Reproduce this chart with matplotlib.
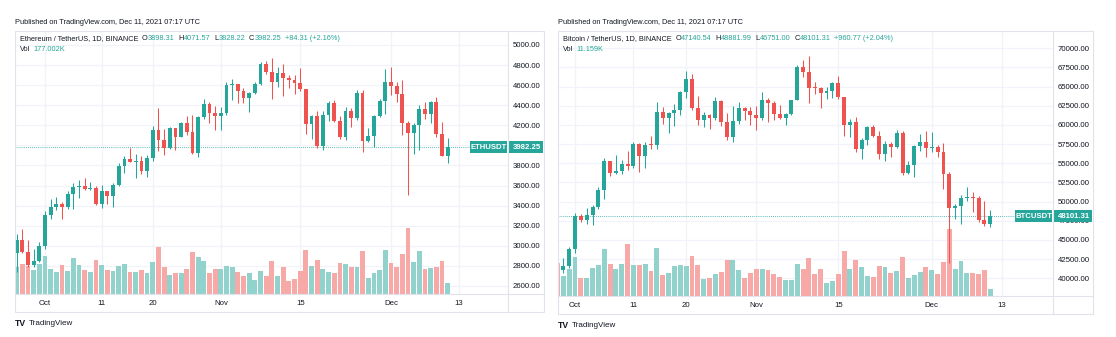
import datetime as dt
import numpy as np
import matplotlib
matplotlib.use("Agg")
import matplotlib.pyplot as plt
from matplotlib.patches import Rectangle
from matplotlib.transforms import blended_transform_factory

plt.rcParams['font.family'] = ['Liberation Sans', 'DejaVu Sans']

W, H = 1116, 337
GREEN, RED = '#26a69a', '#ef5350'
VGREEN, VRED = '#92d2cc', '#f7a9a7'
TXT, GRID, BORDER = '#131722', '#f0f3fa', '#e0e3eb'

# ---------------- ETH / USDT daily (from 2021-09-26) ----------------
eth_start = dt.date(2021, 9, 26)
eth_open = [2926, 3062, 2934, 2807, 2850, 3001, 3307, 3391, 3418, 3382, 3516, 3586, 3592, 3562,
            3575, 3416, 3545, 3493, 3605, 3790, 3868, 3830, 3849, 3746, 3878, 4156, 4058, 3972,
            4170, 4085, 4220, 4131, 3922, 4287, 4415, 4323, 4288, 4325, 4602, 4609, 4537, 4477,
            4519, 4615, 4808, 4733, 4630, 4722, 4667, 4648, 4624, 4560, 4215, 4292, 3997, 4298,
            4421, 4248, 4087, 4340, 4270, 4523, 4042, 4098, 4294, 4446, 4632, 4587, 4512, 4221,
            4119, 4199, 4359, 4308, 4433, 4110, 3898.31]
eth_high = [3118, 3172, 3059, 2970, 3035, 3349, 3470, 3490, 3439, 3545, 3622, 3652, 3676, 3637,
            3598, 3606, 3550, 3623, 3827, 3898, 3970, 3910, 3897, 3906, 4196, 4376, 4168, 4188,
            4176, 4232, 4295, 4300, 4296, 4460, 4435, 4392, 4378, 4630, 4665, 4610, 4568, 4532,
            4630, 4830, 4837, 4868, 4778, 4810, 4705, 4700, 4772, 4564, 4300, 4340, 4345, 4440,
            4448, 4295, 4385, 4370, 4550, 4550, 4175, 4300, 4460, 4765, 4778, 4630, 4650, 4243,
            4227, 4398, 4429, 4445, 4487, 4234, 4071.57]
eth_low = [2741, 2929, 2793, 2787, 2838, 2968, 3265, 3358, 3271, 3364, 3366, 3479, 3558, 3552,
           3410, 3374, 3412, 3383, 3600, 3722, 3836, 3677, 3720, 3684, 3842, 3949, 3904, 3968,
           3951, 4080, 4103, 3913, 3888, 4266, 4228, 4150, 4150, 4304, 4450, 4426, 4420, 4332,
           4507, 4603, 4709, 4462, 4577, 4489, 4575, 4515, 4540, 4112, 4060, 3975, 3955, 4244,
           4236, 4062, 4055, 4180, 4255, 3935, 4036, 3980, 4278, 4317, 4500, 4433, 4105, 3503,
           3910, 3958, 4266, 4222, 4088, 3890, 3828.22]
eth_close = [3062, 2934, 2807, 2850, 3001, 3307, 3391, 3418, 3382, 3516, 3586, 3592, 3562, 3575,
             3416, 3545, 3493, 3605, 3790, 3868, 3830, 3849, 3746, 3878, 4156, 4058, 3972, 4170,
             4085, 4220, 4131, 3922, 4287, 4415, 4323, 4288, 4325, 4602, 4609, 4537, 4477, 4519,
             4615, 4808, 4733, 4630, 4722, 4667, 4648, 4624, 4560, 4215, 4292, 3997, 4298, 4421,
             4248, 4087, 4340, 4270, 4523, 4042, 4098, 4294, 4446, 4632, 4587, 4512, 4221, 4119,
             4199, 4359, 4308, 4433, 4110, 3898, 3982.25]
eth_vol_k = [430, 483, 456, 391, 483, 617, 403, 349, 467, 375, 580, 467, 386, 349, 552, 467, 386,
             375, 456, 483, 359, 349, 386, 333, 520, 762, 440, 311, 343, 333, 398, 676, 596, 536,
             333, 403, 403, 446, 430, 354, 295, 343, 230, 375, 295, 526, 290, 440, 214, 242, 365,
             708, 456, 547, 403, 359, 333, 504, 483, 430, 430, 687, 262, 333, 391, 708, 494, 430,
             649, 1058, 510, 697, 403, 414, 440, 536, 177]
eth_yticks = [2600, 2800, 3000, 3200, 3400, 3600, 3800, 4000, 4200, 4400, 4600, 4800, 5000]

# ---------------- BTC / USDT daily (from 2021-09-28) ----------------
btc_start = dt.date(2021, 9, 28)
btc_open = [42170, 41034, 41564, 43790, 48165, 47657, 48233, 49245, 51493, 55339, 53798, 53963,
            54962, 54691, 57485, 56006, 57367, 57347, 61672, 60875, 61528, 62010, 64280, 66001,
            62193, 60688, 61286, 60852, 63078, 60328, 58413, 60575, 62253, 61859, 61300, 60911,
            63219, 62896, 61395, 60937, 61470, 63273, 67525, 66947, 64882, 64774, 64122, 64380,
            65519, 63606, 60058, 60344, 56891, 58052, 59707, 58622, 56247, 57541, 57138, 58960,
            53727, 54721, 57274, 57776, 56950, 57184, 56480, 53601, 49152, 49396, 50441, 50588,
            50471, 47545, 47140.54]
btc_high = [42787, 42590, 44141, 48495, 48359, 49228, 49529, 51886, 55750, 55340, 56100, 55489,
            56561, 57839, 57680, 57804, 58532, 62933, 62350, 61720, 62695, 64487, 67000, 66639,
            63733, 61748, 61490, 63710, 63293, 61496, 62499, 62980, 62359, 62405, 62437, 64270,
            63500, 63086, 62595, 61560, 63286, 67789, 68524, 69000, 65600, 65000, 65000, 65550,
            66401, 63617, 60840, 60976, 58320, 59845, 60029, 59266, 57875, 57735, 59398, 59150,
            55280, 57445, 58865, 59176, 59053, 57375, 57600, 53859, 49699, 50891, 51936, 51200,
            50797, 50125, 48881.99]
btc_low = [40888, 40753, 41410, 43283, 47400, 47088, 46891, 49022, 50382, 53357, 53617, 53661,
           54080, 54416, 53879, 54415, 56819, 56850, 60150, 58963, 59844, 61322, 63482, 62000,
           60000, 59702, 59510, 60650, 59817, 58000, 57820, 60174, 60673, 59945, 59405, 60624,
           60382, 60677, 60721, 60050, 61322, 63273, 66222, 62822, 64100, 62278, 63360, 63576,
           63400, 58574, 58373, 56474, 55600, 57353, 58486, 55610, 55317, 55837, 57000, 53500,
           53610, 53256, 56666, 55875, 56458, 55777, 51680, 42000, 47727, 47100, 50039, 48600,
           47320, 46852, 46751.00]
btc_close = [41034, 41564, 43790, 48165, 47657, 48233, 49245, 51493, 55339, 53798, 53963, 54962,
             54691, 57485, 56006, 57367, 57347, 61672, 60875, 61528, 62010, 64280, 66001, 62193,
             60688, 61286, 60852, 63078, 60328, 58413, 60575, 62253, 61859, 61300, 60911, 63219,
             62896, 61395, 60937, 61470, 63273, 67525, 66947, 64882, 64774, 64122, 64380, 65519,
             63606, 60058, 60344, 56891, 58052, 59707, 58622, 56247, 57541, 57138, 58960, 53727,
             54721, 57274, 57776, 56950, 57184, 56480, 53601, 49152, 49396, 50441, 50588, 50471,
             47545, 47140, 48101.31]
btc_vol_k = [55.1, 33.4, 45.1, 64.6, 30.6, 30.6, 46.3, 51.3, 78.0, 52.9, 45.1, 53.9, 86.3, 51.3,
             51.8, 53.9, 41.8, 80.2, 34.6, 38.9, 50.1, 52.3, 50.1, 66.8, 51.3, 27.9, 30.6, 36.2,
             40.1, 60.6, 60.1, 43.4, 30.6, 38.9, 44.6, 45.6, 43.4, 36.2, 31.7, 26.2, 26.2, 53.4,
             44.6, 63.5, 37.2, 44.6, 22.2, 25.6, 36.7, 75.2, 45.1, 60.6, 48.9, 33.4, 31.7, 50.1,
             48.9, 38.9, 41.2, 64.6, 29.6, 35.6, 40.1, 47.9, 43.9, 36.7, 57.3, 111.4, 45.1, 57.9,
             37.9, 37.9, 36.7, 43.4, 11.159]
btc_yticks = [40000, 42500, 45000, 47500, 50000, 52500, 55000, 57500, 60000, 62500, 65000,
              67500, 70000]

date_tick_days = [dt.date(2021, 10, 1), dt.date(2021, 10, 11), dt.date(2021, 10, 20),
                  dt.date(2021, 11, 1), dt.date(2021, 11, 15), dt.date(2021, 12, 1),
                  dt.date(2021, 12, 13)]
date_tick_labels = ['Oct', '11', '20', 'Nov', '15', 'Dec', '13']

fig = plt.figure(figsize=(W / 100, H / 100), dpi=100)
fig.patch.set_facecolor('white')
ov = fig.add_axes([0, 0, 1, 1], zorder=10)
ov.set_xlim(0, W)
ov.set_ylim(H, 0)
ov.axis('off')
ov.patch.set_visible(False)
renderer = fig.canvas.get_renderer()


def rect(L, T, R, B):
    return [L / W, 1 - B / H, (R - L) / W, (B - T) / H]


def chain(x, y, pieces, fs):
    """Write text pieces one after the other, measuring each rendered width."""
    for txt, col, gap in pieces:
        t = ov.text(x, y, txt, color=col, fontsize=fs, ha='left', va='center')
        bb = t.get_window_extent(renderer=renderer)
        x += bb.width + gap


def panel(P):
    o = np.asarray(P['open'], float)
    hi = np.asarray(P['high'], float)
    lo = np.asarray(P['low'], float)
    c = np.asarray(P['close'], float)
    v = np.asarray(P['vol'], float)
    x = np.arange(len(c))
    up = c >= o
    L, T, R, B = P['plot']
    axv = fig.add_axes(rect(L, T, R, B), zorder=1)
    axp = fig.add_axes(rect(L, T, R, B), zorder=2, sharex=axv)
    axp.patch.set_visible(False)
    axv.set_xlim(*P['xlim'])
    axv.set_ylim(0, P['vmax'])
    axp.set_ylim(*P['ylim'])
    tx = [(d - P['start']).days for d in date_tick_days]
    for t in tx:
        axv.axvline(t, color=GRID, lw=0.9, zorder=0)
    bt = blended_transform_factory(axv.transAxes, axp.transData)
    for yt in P['yticks']:
        axv.plot([0, 1], [yt, yt], transform=bt, color=GRID, lw=0.9, zorder=0)
    axv.bar(x, v, width=0.84, color=np.where(up, VGREEN, VRED), zorder=1)
    axp.vlines(x, lo, hi, colors=np.where(up, GREEN, RED), lw=0.75, zorder=2)
    body_lo = np.minimum(o, c)
    body_h = np.maximum(np.abs(c - o), P['mintick'])
    axp.bar(x, body_h, bottom=body_lo, width=0.68, color=np.where(up, GREEN, RED), zorder=3)
    frac = (P['box_l'] - L) / (R - L)
    axp.axhline(c[-1], xmin=0, xmax=frac, color=GREEN, lw=0.6, ls=(0, (1, 1.5)), zorder=1)
    for ax in (axv, axp):
        for s in ax.spines.values():
            s.set_visible(False)
    axv.set_yticks([])
    axv.tick_params(axis='x', length=0, labelbottom=False)
    axv.set_xticks(tx)
    axp.set_xticks(tx)
    axp.set_xticklabels(date_tick_labels)
    axp.tick_params(axis='x', length=0, pad=4.5, labelsize=5.6, labelcolor=TXT)
    axp.yaxis.tick_right()
    axp.set_yticks(P['yticks'])
    axp.set_yticklabels(['%.2f' % t for t in P['yticks']])
    axp.tick_params(axis='y', length=0, pad=3.6, labelsize=5.6, labelcolor=TXT)

    FL, FT, FR, FB = P['frame']
    ov.add_patch(Rectangle((FL, FT), FR - FL, FB - FT, fill=False, ec=BORDER, lw=0.8))
    ov.plot([R, R], [FT, FB], color=BORDER, lw=0.8)
    ov.plot([FL, FR], [B, B], color=BORDER, lw=0.8)

    ypix = H - axp.transData.transform((0, c[-1]))[1]
    bh = 11.5
    ov.add_patch(Rectangle((P['box_l'], ypix - bh / 2), R - P['box_l'] - 0.6, bh, color=GREEN, lw=0))
    ov.add_patch(Rectangle((R + 0.6, ypix - bh / 2), FR - R - 1.5, bh, color=GREEN, lw=0))
    ov.text((P['box_l'] + R) / 2, ypix, P['sym'], color='white', ha='center', va='center',
            fontsize=5.6, fontweight='bold')
    ov.text(R + 5, ypix, '%.2f' % c[-1], color='white', ha='left', va='center',
            fontsize=5.6, fontweight='bold')

    ov.text(FL, 22.5, 'Published on TradingView.com, Dec 11, 2021 07:17 UTC', color=TXT,
            fontsize=5.3, ha='left', va='center')
    tl = FL + 5
    pieces = [(P['title'], TXT, 3.5)]
    for lab, val in P['ohlc']:
        pieces += [(lab, TXT, 0.4), (val, GREEN, 3.5)]
    pieces += [(P['chg'], GREEN, 0)]
    chain(tl, 39, pieces, 5.3)
    chain(tl, 49.5, [('Vol', TXT, 3), (P['vol_txt'], GREEN, 0)], 5.3)
    ov.text(FL, FB + 11.5, 'TV', color=TXT, fontsize=6.2, fontweight='heavy', ha='left',
            va='center')
    ov.text(FL + 14, FB + 11.5, 'TradingView', color=TXT, fontsize=5.8, ha='left', va='center')


panel(dict(open=eth_open, high=eth_high, low=eth_low, close=eth_close, vol=eth_vol_k,
           start=eth_start, plot=(15, 31, 508, 294), frame=(15, 31, 544, 312),
           xlim=(-0.3, 86.65), ylim=(2520, 5139.4), vmax=4234, yticks=eth_yticks,
           mintick=10, box_l=470, sym='ETHUSDT',
           title='Ethereum / TetherUS, 1D, BINANCE',
           ohlc=[('O', '3898.31'), ('H', '4071.57'), ('L', '3828.22'), ('C', '3982.25')],
           chg='+84.31 (+2.16%)', vol_txt='177.002K'))

panel(dict(open=btc_open, high=btc_high, low=btc_low, close=btc_close, vol=btc_vol_k,
           start=btc_start, plot=(558, 31, 1053, 296), frame=(558, 31, 1093, 314),
           xlim=(0.1, 84.72), ylim=(37693, 72256), vmax=442.6, yticks=btc_yticks,
           mintick=130, box_l=1015, sym='BTCUSDT',
           title='Bitcoin / TetherUS, 1D, BINANCE',
           ohlc=[('O', '47140.54'), ('H', '48881.99'), ('L', '46751.00'), ('C', '48101.31')],
           chg='+960.77 (+2.04%)', vol_txt='11.159K'))

fig.savefig('out.png', dpi=100, facecolor='white')
